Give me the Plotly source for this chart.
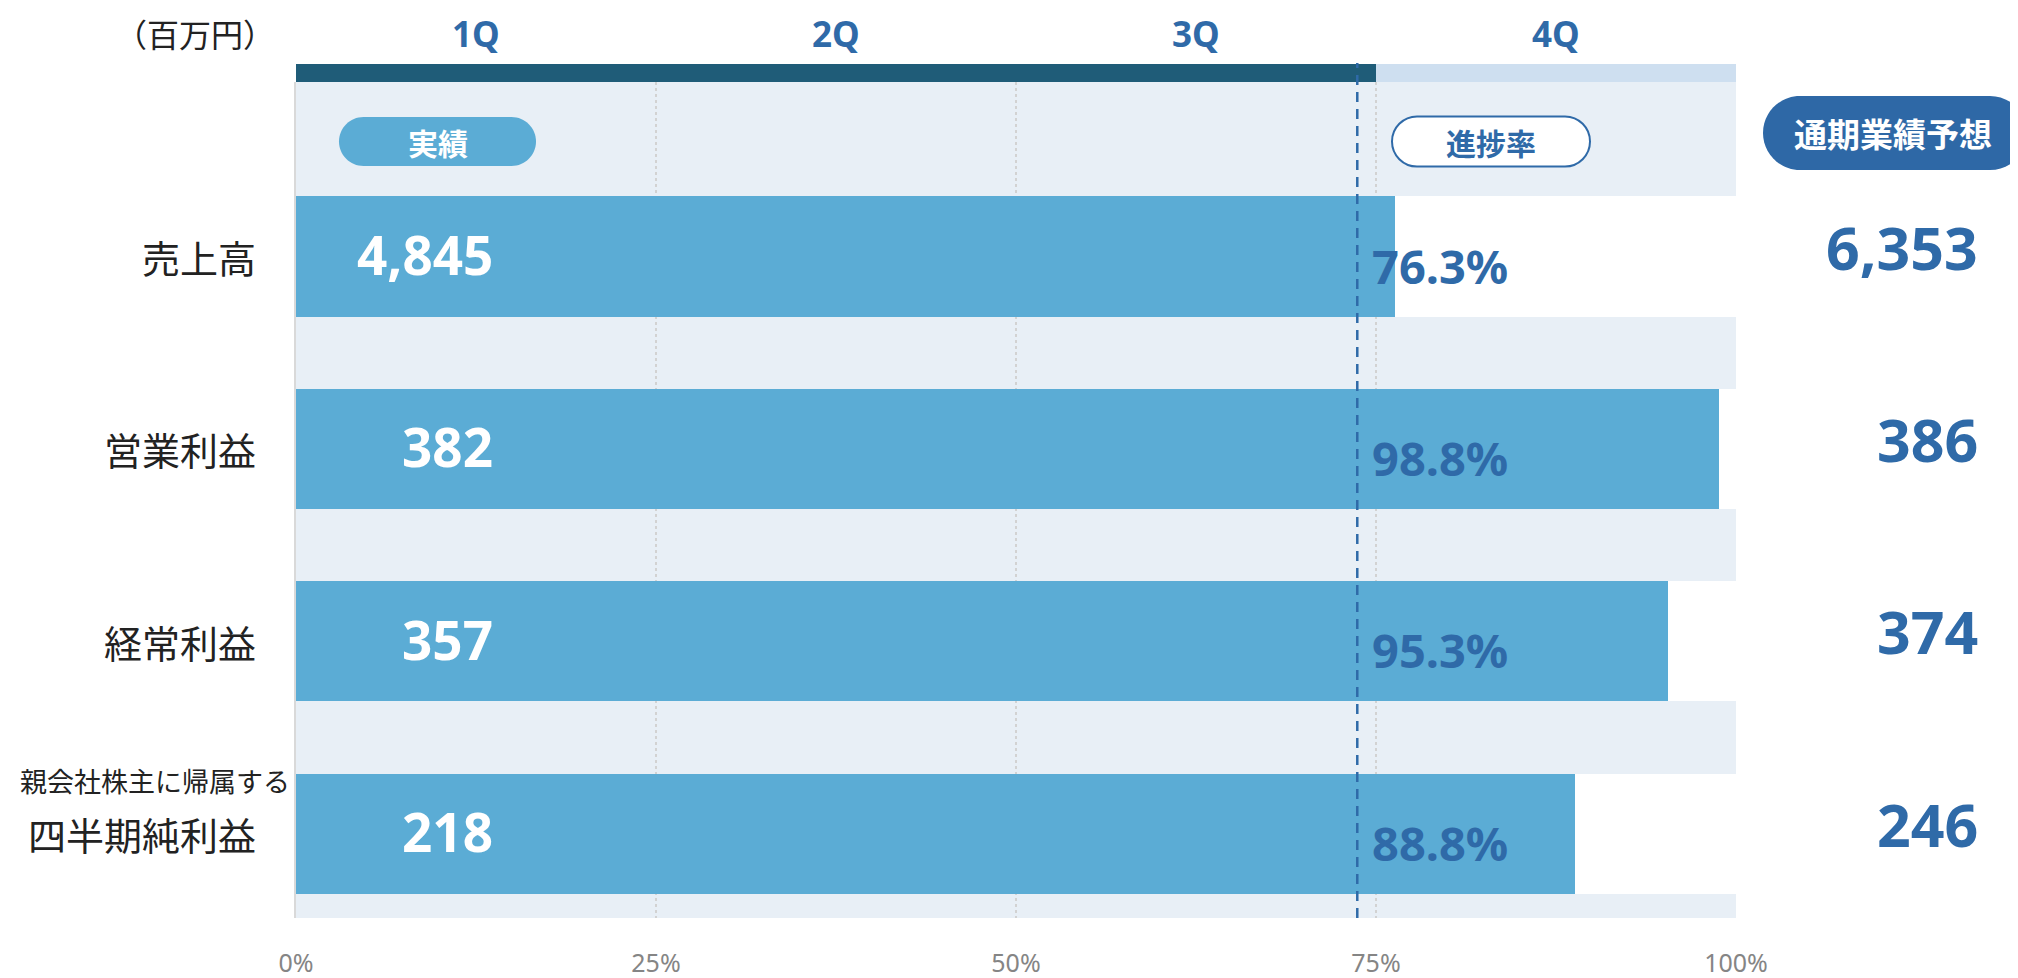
"""Quarterly results vs. full-year forecast progress chart."""

import plotly.graph_objects as go

# --- data -----------------------------------------------------------------
CATEGORIES = ["売上高", "営業利益", "経常利益", "四半期純利益"]
CATEGORY_NOTES = ["", "", "", "親会社株主に帰属する"]
ACTUAL = [4845, 382, 357, 218]          # 実績 (百万円)
FORECAST = [6353, 386, 374, 246]        # 通期業績予想 (百万円)
PROGRESS = [76.3, 98.8, 95.3, 88.8]     # 進捗率 (%)
QUARTERS = ["1Q", "2Q", "3Q", "4Q"]
QUARTERS_DONE = 3
STANDARD_LINE = 73.7                    # dashed reference line (%)
PCT_TICKS = [0, 25, 50, 75, 100]

# --- styling --------------------------------------------------------------
PAGE_OFF = 8                            # default body margin of the html page
W, H = 2018 - PAGE_OFF, 978 - PAGE_OFF
PLOT_L, PLOT_T, PLOT_R, PLOT_B = 296, 82, 1736, 918   # page pixels
BAR_BLUE = "#5BACD5"
BG = "#E8EFF6"
DARK = "#1F5C78"
LIGHT = "#CEDFF0"
TEXT_BLUE = "#2F6AA8"
PILL_BLUE = "#2E68A6"
JP = "Noto Sans CJK JP"
NUM = "Noto Sans"

PW, PH = PLOT_R - PLOT_L, PLOT_B - PLOT_T


def px(x):
    return (x - PLOT_L) / PW


def py(y):
    return (PLOT_B - y) / PH


def pill(cx, cy, hw, hh, fill, line=None):
    """Rounded capsule drawn around a pixel centre."""
    r, k = hh, 0.5523 * hh
    path = (
        f"M{-hw + r},{-hh} L{hw - r},{-hh} "
        f"C{hw - r + k},{-hh} {hw},{-k} {hw},0 "
        f"C{hw},{k} {hw - r + k},{hh} {hw - r},{hh} "
        f"L{-hw + r},{hh} "
        f"C{-hw + r - k},{hh} {-hw},{k} {-hw},0 "
        f"C{-hw},{-k} {-hw + r - k},{-hh} {-hw + r},{-hh} Z"
    )
    return dict(
        type="path", xref="paper", yref="paper",
        xsizemode="pixel", ysizemode="pixel",
        xanchor=px(cx), yanchor=py(cy), path=path,
        fillcolor=fill, line=dict(color=line or fill, width=2 if line else 0),
        layer="above",
    )


def label(text, x, y, size, color, xref="paper", yref="paper", xanchor="center",
          weight=400, family=JP, yshift=0):
    return dict(text=text, xref=xref, yref=yref, x=x, y=y, xanchor=xanchor,
                yanchor="middle", yshift=yshift, showarrow=False,
                font=dict(family=family, size=size, color=color, weight=weight))


rows = list(range(len(CATEGORIES)))

fig = go.Figure()
fig.add_trace(go.Bar(
    y=rows, x=[100] * len(rows), orientation="h", width=0.624,
    marker=dict(color="white", line=dict(width=0)), hoverinfo="skip",
    showlegend=False,
))
fig.add_trace(go.Bar(
    y=rows, x=PROGRESS, orientation="h", width=0.624,
    marker=dict(color=BAR_BLUE, line=dict(width=0)),
    hovertemplate="%{x}%<extra></extra>", showlegend=False,
))

shapes = []
# quarter header strip
shapes.append(dict(type="rect", xref="x", yref="paper", x0=0, x1=QUARTERS_DONE * 25,
                   y0=1, y1=py(64), fillcolor=DARK, line=dict(width=0)))
shapes.append(dict(type="rect", xref="x", yref="paper", x0=QUARTERS_DONE * 25, x1=100,
                   y0=1, y1=py(64), fillcolor=LIGHT, line=dict(width=0)))
# dashed progress reference
shapes.append(dict(type="line", xref="x", yref="paper", x0=STANDARD_LINE, x1=STANDARD_LINE,
                   y0=0, y1=py(63), line=dict(color=TEXT_BLUE, width=2.5, dash="10px,7px"),
                   layer="above"))
shapes.append(pill(437.5, 141.5, 98.5, 24.5, BAR_BLUE))
shapes.append(pill(1491, 141.5, 99, 25, "white", TEXT_BLUE))
shapes.append(pill(1895, 133, 132, 37, PILL_BLUE))

ann = [label("（百万円）", px(195), py(33), 32, "#222222")]
for i, q in enumerate(QUARTERS):
    ann.append(label(q, i * 25 + 12.5, py(33), 35, TEXT_BLUE, xref="x",
                     weight=700, family=NUM))
ann.append(label("実績", px(437.5), py(141.5), 30, "white", weight=700))
ann.append(label("進捗率", px(1491), py(141.5), 30, TEXT_BLUE, weight=700))
ann.append(label("通期業績予想", px(1893), py(133), 33, "white", weight=700))

for i in rows:
    ann.append(label(CATEGORIES[i], px(258), i, 38, "#222222", yref="y", xanchor="right"))
    if CATEGORY_NOTES[i]:
        ann.append(label(CATEGORY_NOTES[i], px(292), i, 27, "#222222", yref="y",
                         xanchor="right", yshift=53))
    ann.append(label(f"{ACTUAL[i]:,}", 13.8, i, 53, "white", xref="x", yref="y",
                     xanchor="right", weight=700, family=NUM, yshift=2))
    ann.append(label(f"{PROGRESS[i]:.1f}%", 74.6, i, 47, TEXT_BLUE, xref="x", yref="y",
                     xanchor="left", weight=700, family=NUM, yshift=-9))
    ann.append(label(f"{FORECAST[i]:,}", px(1980), i, 59, TEXT_BLUE, yref="y",
                     xanchor="right", weight=700, family=NUM, yshift=10))

fig.update_layout(
    width=W, height=H,
    margin=dict(l=PLOT_L - PAGE_OFF, r=W + PAGE_OFF - PLOT_R,
                t=PLOT_T - PAGE_OFF, b=H + PAGE_OFF - PLOT_B, pad=0),
    paper_bgcolor="white", plot_bgcolor=BG,
    barmode="overlay", bargap=0,
    shapes=shapes, annotations=ann,
    xaxis=dict(range=[0, 100], tickvals=PCT_TICKS,
               ticktext=[f"{v}%" for v in PCT_TICKS],
               showgrid=True, gridcolor="#D2D2D2", gridwidth=2, griddash="dot",
               zeroline=False, showline=False, ticks="", ticklabelstandoff=28,
               automargin=False,
               tickfont=dict(family=NUM, size=25, color="#858585"), fixedrange=True),
    yaxis=dict(range=[3.438, -0.907], showgrid=False, zeroline=False,
               showline=True, linecolor="#D9D9D9", linewidth=2, automargin=False,
               showticklabels=False, fixedrange=True),
)

fig.write_html("out.html")
